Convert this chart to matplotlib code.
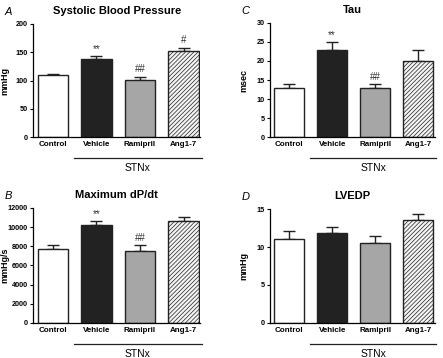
import matplotlib
matplotlib.use('Agg')
import matplotlib.pyplot as plt
import matplotlib.transforms as mtransforms

groups = ['Control', 'Vehicle', 'Ramipril', 'Ang1-7']

sbp = [110, 138, 101, 153]
sbp_err = [2, 5, 6, 5]
sbp_marks = ['', '**', '##', '#']

tau = [13, 23, 13, 20]
tau_err = [1, 2, 1, 3]
tau_marks = ['', '**', '##', '']

dpdt = [7750, 10200, 7500, 10650]
dpdt_err = [400, 450, 650, 450]
dpdt_marks = ['', '**', '##', '']

lvedp = [11, 11.8, 10.5, 13.5]
lvedp_err = [1.1, 0.8, 1.0, 0.9]
lvedp_marks = ['', '', '', '']

plt.rcParams['font.family'] = ['Arial', 'Liberation Sans', 'DejaVu Sans']
plt.rcParams['hatch.linewidth'] = 0.5
plt.rcParams['hatch.color'] = '#9a9a9a'

fig = plt.figure(figsize=(4.43, 3.58), dpi=100)

colors = ['white', '#222222', '#a6a6a6', '#f4f4f4']
hatches = [None, None, None, '////////']


def panel(rect, letter, title, vals, errs, marks, ymax, yticks, ylabel, label_x):
    ax = fig.add_axes(rect)
    x = range(len(groups))
    for i in x:
        ax.bar(i, vals[i], width=0.7, color=colors[i], edgecolor='#222222',
               linewidth=1.0, hatch=hatches[i], zorder=2)
        ax.errorbar(i, vals[i], yerr=[[0], [errs[i]]], color='#222222',
                    capsize=4, elinewidth=1.0, capthick=1.0, zorder=1)
        if marks[i]:
            ax.text(i, vals[i] + errs[i] + ymax * 0.02, marks[i], ha='center',
                    va='bottom', fontsize=7, color='#333333')
    ax.set_xlim(-0.45, 3.38)
    ax.set_ylim(0, ymax)
    ax.set_yticks(yticks)
    ax.set_yticklabels([str(t) for t in yticks], fontsize=5.2, fontweight='bold')
    ax.set_xticks(list(x))
    ax.set_xticklabels(groups, fontsize=5.8, fontweight='bold')
    ax.tick_params(axis='x', length=0, pad=3)
    ax.tick_params(axis='y', length=2.5, width=0.8, pad=1.2)
    ax.spines['top'].set_visible(False)
    ax.spines['right'].set_visible(False)
    ax.spines['left'].set_linewidth(0.9)
    ax.spines['bottom'].set_linewidth(0.9)
    ax.set_ylabel(ylabel, fontsize=6.5, fontweight='bold')
    ax.yaxis.set_label_coords(label_x, 0.5)
    ax.set_title(title, fontsize=8, fontweight='bold', pad=7)
    ax.text(-0.17, 1.06, letter, transform=ax.transAxes, fontsize=8,
            fontstyle='italic', va='bottom', ha='left')
    trans = mtransforms.blended_transform_factory(ax.transData, ax.transAxes)
    ax.plot([0.48, 3.42], [-0.185, -0.185], color='#222222', lw=0.9,
            transform=trans, clip_on=False)
    ax.text(1.95, -0.27, 'STNx', transform=trans, ha='center', va='center',
            fontsize=7.5)
    return ax


panel([0.075, 0.617, 0.377, 0.316], 'A', 'Systolic Blood Pressure', sbp, sbp_err,
      sbp_marks, 200, [0, 50, 100, 150, 200], 'mmHg', -0.145)
panel([0.609, 0.617, 0.372, 0.319], 'C', 'Tau', tau, tau_err, tau_marks, 30,
      [0, 5, 10, 15, 20, 25, 30], 'msec', -0.13)
panel([0.075, 0.098, 0.377, 0.321], 'B', 'Maximum dP/dt', dpdt, dpdt_err,
      dpdt_marks, 12000, [0, 2000, 4000, 6000, 8000, 10000, 12000], 'mmHg/s',
      -0.145)
panel([0.609, 0.098, 0.372, 0.318], 'D', 'LVEDP', lvedp, lvedp_err, lvedp_marks,
      15, [0, 5, 10, 15], 'mmHg', -0.13)

fig.savefig('out.png', dpi=100)
